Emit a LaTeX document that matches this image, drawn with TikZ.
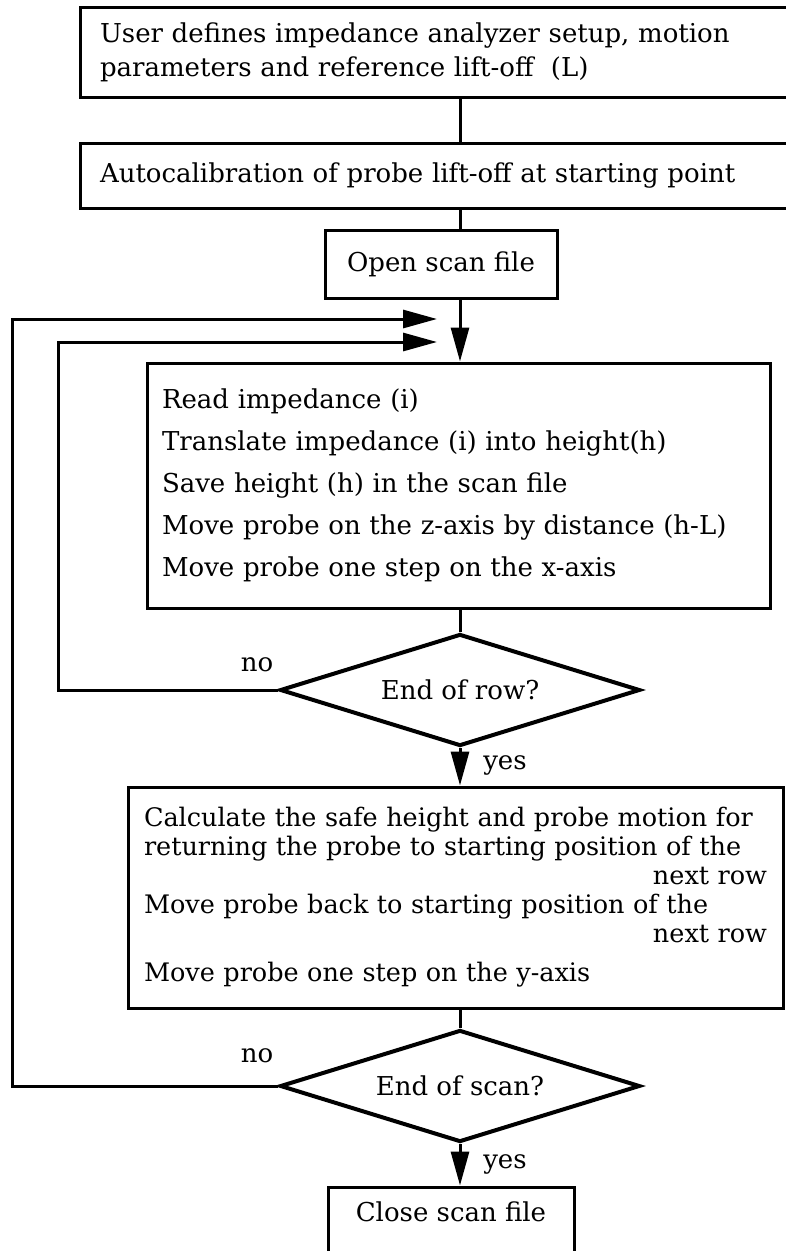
\documentclass[tikz,border=0pt]{standalone}
\usepackage{fontspec}
\setmainfont{DejaVu Serif}
\usetikzlibrary{shapes.geometric,arrows.meta}

\begin{document}
\begin{tikzpicture}[x=1pt, y=-1pt,
		every node/.style={font=\fontsize{26}{34}\selectfont},
		box/.style={draw, line width=3pt, align=left, inner ysep=0pt},
		test/.style={draw, diamond, line width=4pt, minimum width=360pt, minimum height=112pt, inner sep=0pt, shape aspect=3.2},
		arr/.style={line width=3pt, -{Triangle[length=34pt, width=18pt]}},
		link/.style={line width=3pt}]
			\useasboundingbox (0,0) rectangle (786,1251);
			\coordinate (spine) at (460,0);
			\coordinate (inner) at (58,342);
			\coordinate (outer) at (12,319);
			\coordinate (backrow) at (437,342);
			\coordinate (backscan) at (437,319);
			
			\node[box, text width=680pt, inner xsep=20pt, minimum height=90pt] (user) at (440,52) {User defines impedance analyzer setup, motion\\parameters and reference lift-off~~(L)};
			\node[box, text width=680pt, inner xsep=20pt, minimum height=65pt] (calib) at (440,175.5) {Autocalibration of probe lift-off at starting point};
			\node[box, align=center, minimum width=232pt, minimum height=68pt] (open) at (441,264) {Open scan file};
			\node[box, text width=593pt, inner xsep=15pt, minimum height=245pt, font=\fontsize{26}{42}\selectfont] (loop) at (458.5,485.5) {Read impedance (i)\\Translate impedance (i) into height(h)\\Save height (h) in the scan file\\Move probe on the z-axis by distance (h-L)\\Move probe one step on the x-axis};
			\node[test] (row) at (460,690) {End of row?};
			\node[box, text width=623pt, inner xsep=16pt, minimum height=221pt, font=\fontsize{25.5}{29}\selectfont] (calc) at (455.5,897.5) {Calculate the safe height and probe motion for\\returning the probe to starting position of the\\\hspace*{\fill}next row\hspace*{12pt}\\Move probe back to starting position of the\\\hspace*{\fill}next row\hspace*{12pt}\\[10pt]Move probe one step on the y-axis};
			\node[test] (scan) at (460,1086) {End of scan?};
			\node[box, align=center, minimum width=246pt, minimum height=80pt, text height=18pt, text depth=30pt] (close) at (451,1227) {Close scan file};
			\node (no1) at (257,665) {no};
			\node (yes1) at (505,765) {yes};
			\node (no2) at (257,1056) {no};
			\node (yes2) at (505,1164) {yes};
			
			\draw[link] (user.south -| spine)--(calib.north -| spine);
			\draw[link] (calib.south -| spine)--(open.north -| spine);
			\draw[arr] (open.south -| spine)--(loop.north -| spine);
			\draw[link] (loop.south -| spine)--(row.north);
			\draw[arr] (row.south)--(calc.north -| row.south);
			\draw[link] (calc.south -| spine)--(scan.north);
			\draw[arr] (scan.south)--(close.north -| scan.south);
			\draw[arr] (row.west) -| (inner)--(backrow);
			\draw[arr] (scan.west) -| (outer)--(backscan);
			
		\end{tikzpicture}
\end{document}
